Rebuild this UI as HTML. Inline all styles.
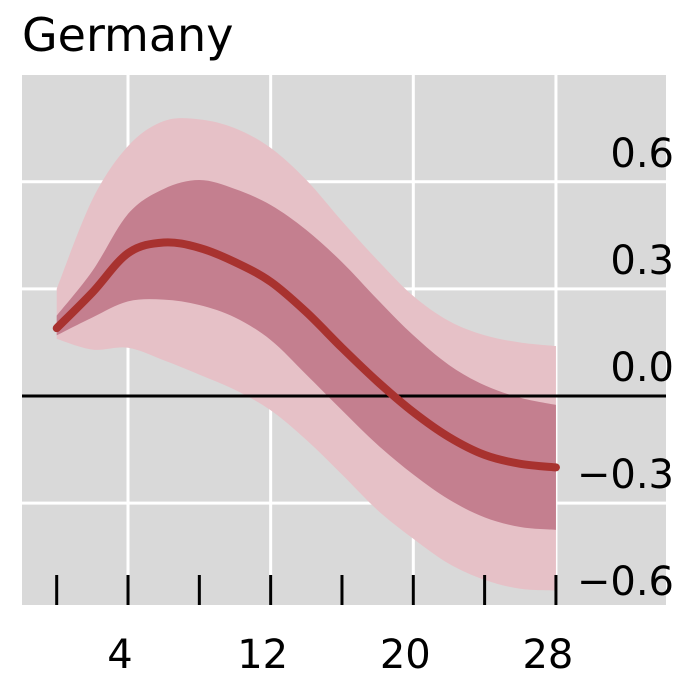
<!DOCTYPE html>
<html><head><meta charset="utf-8"><style>
html,body{margin:0;padding:0;background:#fff;}
svg{display:block;font-family:"DejaVu Sans","Liberation Sans",sans-serif;}
</style></head><body>
<svg id="chart" width="692" height="676">
<text x="22" y="51" font-size="46" fill="#000">Germany</text>
<rect x="22" y="75" width="644" height="530" fill="#d9d9d9"/>
<g id="grid"></g><g id="bands"></g><g id="lines"></g><g id="axes"></g>
</svg>
<script>
const quarters=[0,2,4,6,8,10,12,14,16,18,20,22,24,26,28];
const median=[0.19,0.29,0.40,0.43,0.415,0.375,0.32,0.235,0.135,0.04,-0.045,-0.115,-0.165,-0.19,-0.2];
const innerUpper=[0.225,0.35,0.51,0.58,0.605,0.58,0.535,0.465,0.375,0.27,0.17,0.087,0.03,-0.005,-0.025];
const innerLower=[0.17,0.22,0.265,0.27,0.255,0.22,0.157,0.06,-0.04,-0.137,-0.22,-0.29,-0.34,-0.367,-0.375];
const outerUpper=[0.30,0.55,0.70,0.77,0.775,0.75,0.695,0.605,0.49,0.38,0.28,0.21,0.17,0.15,0.14];
const outerLower=[0.16,0.13,0.135,0.10,0.06,0.017,-0.04,-0.123,-0.22,-0.32,-0.40,-0.47,-0.515,-0.54,-0.545];
const yTicks=[0.6,0.3,0.0,-0.3,-0.6];
const yTickLabels=["0.6","0.3","0.0","\u22120.3","\u22120.6"];
const xTicks=[4,12,20,28];
const xMinor=[0,4,8,12,16,20,24,28];
const NS="http://www.w3.org/2000/svg";
const X=q=>56.7+q*17.83;
const Y=v=>396-v*357;
function mk(tag,attrs,parent){const e=document.createElementNS(NS,tag);for(const k in attrs)e.setAttribute(k,attrs[k]);document.getElementById(parent).appendChild(e);return e;}
function smooth(pts,start){let d=start?('M'+pts[0][0]+','+pts[0][1]):('L'+pts[0][0]+','+pts[0][1]);
for(let i=0;i<pts.length-1;i++){const p0=pts[Math.max(0,i-1)],p1=pts[i],p2=pts[i+1],p3=pts[Math.min(pts.length-1,i+2)];
const c1=[p1[0]+(p2[0]-p0[0])/6,p1[1]+(p2[1]-p0[1])/6],c2=[p2[0]-(p3[0]-p1[0])/6,p2[1]-(p3[1]-p1[1])/6];
d+='C'+c1[0]+','+c1[1]+' '+c2[0]+','+c2[1]+' '+p2[0]+','+p2[1];}return d;}
xTicks.forEach(t=>{const l=mk('line',{x1:X(t),x2:X(t),y1:75,y2:605,stroke:'#fff','stroke-width':3},'grid');

});
yTicks.forEach(t=>{if(t===0)return;const l=mk('line',{x1:22,x2:666,y1:Y(t),y2:Y(t),stroke:'#fff','stroke-width':3},'grid');

});
function band(up,lo,fill,name){const u=quarters.map((q,i)=>[X(q),Y(up[i])]);const l=quarters.map((q,i)=>[X(q),Y(lo[i])]).reverse();
const p=mk('path',{d:smooth(u,true)+smooth(l,false)+'Z',fill:fill},'bands');

}
band(outerUpper,outerLower,'#e6c1c7','outer-band');
band(innerUpper,innerLower,'#c47f8f','inner-band');
const z=mk('line',{x1:22,x2:666,y1:Y(0),y2:Y(0),stroke:'#000','stroke-width':3},'lines');


const ml=mk('path',{d:smooth(quarters.map((q,i)=>[X(q),Y(median[i])]),true),fill:'none',stroke:'#a8322f','stroke-width':8,'stroke-linecap':'round','stroke-linejoin':'round'},'lines');


xMinor.forEach(t=>{const l=mk('line',{x1:X(t),x2:X(t),y1:575,y2:605,stroke:'#000','stroke-width':3},'axes');

});
xTicks.forEach(t=>{const s=mk('text',{x:X(t)-8,y:668,'font-size':40,'text-anchor':'middle',fill:'#000'},'axes');s.textContent=t;

});
yTicks.forEach((t,i)=>{const s=mk('text',{x:674,y:Y(t)-15,'font-size':40,'text-anchor':'end',fill:'#000'},'axes');s.textContent=yTickLabels[i];

});
</script>
</body></html>
